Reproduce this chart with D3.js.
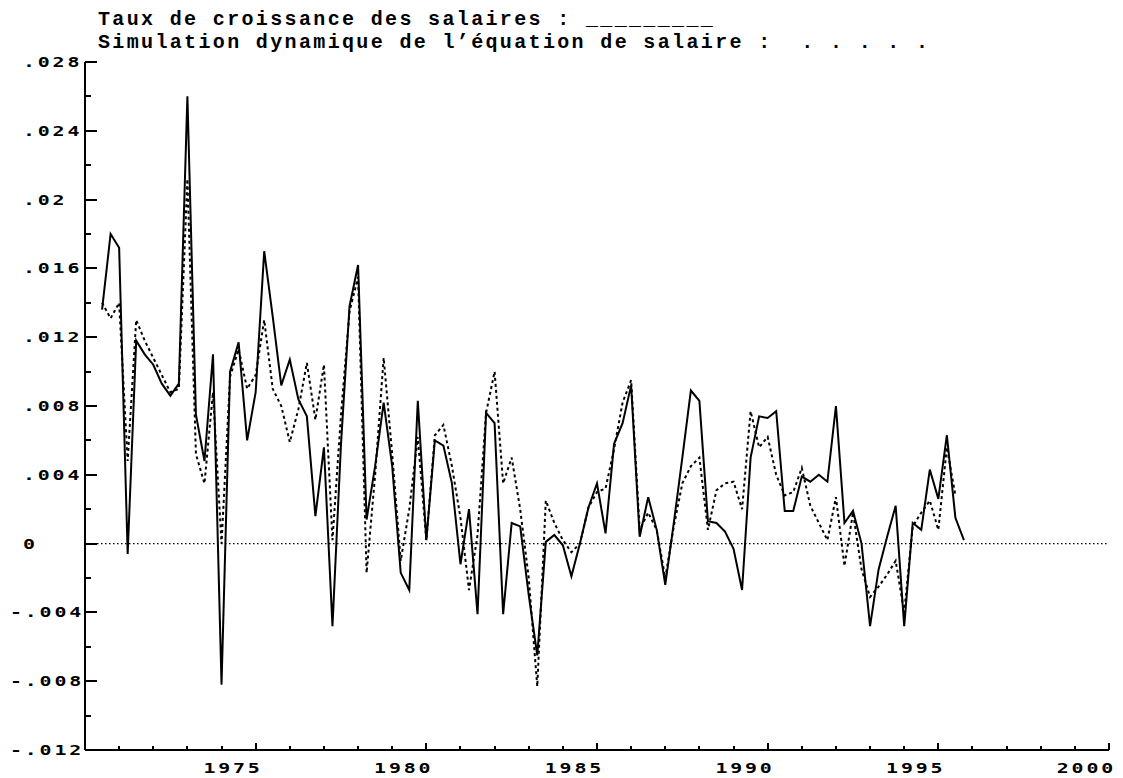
<!DOCTYPE html>
<html><head><meta charset="utf-8">
<script src="https://cdn.jsdelivr.net/npm/d3@7"></script>
<style>
html,body{margin:0;padding:0;background:#fff;}
svg{display:block;}
text{white-space:pre;}
</style></head><body>
<svg id="chart" width="1123" height="778"></svg>
<script>
// ---- data ----
const titleLines = [
  "Taux de croissance des salaires : _________",
  "Simulation dynamique de l\u2019\u00e9quation de salaire :  . . . . ."
];
const firstPeriod = 1970.5;   // 1970 Q3
const periodStep = 0.25;      // quarterly

const actualGrowth = [
  .0136, .0180, .0172, -.0006, .0118, .0110, .0104, .0093, .0086, .0093,
  .0260, .0075, .0048, .0110, -.0082, .0100, .0117, .0060, .0088, .0170,
  .0132, .0092, .0107, .0084, .0074, .0016, .0056, -.0048, .0058, .0138,
  .0162, .0014, .0045, .0082, .0045, -.0017, -.0027, .0083, .0002, .0060,
  .0057, .0035, -.0012, .0020, -.0041, .0076, .0070, -.0041, .0012, .0010,
  -.0030, -.0065, .0001, .0005, -.0001, -.0019, .0000, .0021, .0035, .0006,
  .0058, .0070, .0092, .0004, .0027, .0008, -.0024, .0012, .0050, .0089,
  .0083, .0013, .0012, .0007, -.0003, -.0027, .0050, .0074, .0073, .0077,
  .0019, .0019, .0039, .0036, .0040, .0036, .0080, .0012, .0019, .0000,
  -.0048, -.0015, .0004, .0022, -.0048, .0012, .0008, .0043, .0026, .0063,
  .0015, .0002
];
const simulatedGrowth = [
  .0140, .0131, .0140, .0048, .0130, .0118, .0108, .0098, .0088, .0090,
  .0212, .0052, .0035, .0088, .0000, .0097, .0113, .0090, .0098, .0130,
  .0090, .0080, .0059, .0078, .0105, .0072, .0104, .0002, .0075, .0135,
  .0155, -.0017, .0040, .0108, .0052, -.0010, .0020, .0062, .0002, .0063,
  .0069, .0045, .0015, -.0027, .0005, .0076, .0100, .0035, .0050, .0020,
  -.0020, -.0083, .0025, .0012, .0002, -.0005, .0000, .0021, .0030, .0032,
  .0055, .0082, .0095, .0008, .0018, .0008, -.0020, .0010, .0035, .0045,
  .0050, .0008, .0031, .0035, .0036, .0020, .0077, .0056, .0062, .0040,
  .0028, .0030, .0044, .0022, .0012, .0002, .0027, -.0013, .0018, -.0015,
  -.0031, -.0025, -.0018, -.0010, -.0040, .0010, .0018, .0025, .0008, .0056,
  .0028
];

const yTickValues = [.028, .024, .02, .016, .012, .008, .004, 0, -.004, -.008, -.012];
const yTickLabels = [".028", ".024", ".02", ".016", ".012", ".008", ".004", "0", "-.004", "-.008", "-.012"];
const yMinorTicks = [.026, .022, .018, .014, .010, .006, .002, -.002, -.006, -.010];
const xTickValues = [1975, 1980, 1985, 1990, 1995, 2000];
const xTickLabels = ["1975", "1980", "1985", "1990", "1995", "2000"];
const xMinorTicks = [1971,1972,1973,1974,1976,1977,1978,1979,1981,1982,1983,1984,
                     1986,1987,1988,1989,1991,1992,1993,1994,1996,1997,1998,1999];

// ---- drawing ----
const svg = d3.select("#chart");
const x = d3.scaleLinear().domain([1970, 2000]).range([85, 1109]);
const y = d3.scaleLinear().domain([-0.012, 0.028]).range([750, 62]);
const period = i => firstPeriod + i * periodStep;

// title
svg.selectAll("text.title").data(titleLines).enter().append("text")
  .attr("class", "title")
  .attr("x", 98).attr("y", (d, i) => 25 + i * 23)
  .attr("font-family", "Liberation Mono, DejaVu Sans Mono, monospace")
  .attr("font-weight", "bold").attr("font-size", 20)
  .attr("letter-spacing", 2.35).attr("fill", "#000")
  .text(d => d);

const axisG = svg.append("g").attr("stroke", "#000").attr("stroke-width", 2)
  .attr("shape-rendering", "crispEdges");
// axis lines
axisG.append("line").attr("x1", x(1970)).attr("x2", x(1970)).attr("y1", y(0.028)).attr("y2", y(-0.012));
axisG.append("line").attr("x1", x(1970)).attr("x2", x(2000)).attr("y1", y(-0.012)).attr("y2", y(-0.012));
// y ticks
axisG.selectAll("line.ymaj").data(yTickValues).enter().append("line")
  .attr("x1", x(1970)).attr("x2", x(1970) + 12).attr("y1", d => y(d)).attr("y2", d => y(d));
axisG.selectAll("line.ymin").data(yMinorTicks).enter().append("line")
  .attr("x1", x(1970)).attr("x2", x(1970) + 6).attr("y1", d => y(d)).attr("y2", d => y(d));
// x ticks
axisG.selectAll("line.xmaj").data(xTickValues).enter().append("line")
  .attr("x1", d => x(d)).attr("x2", d => x(d)).attr("y1", y(-0.012)).attr("y2", y(-0.012) - 7);
axisG.selectAll("line.xmin").data(xMinorTicks).enter().append("line")
  .attr("x1", d => x(d)).attr("x2", d => x(d)).attr("y1", y(-0.012)).attr("y2", y(-0.012) - 4);

// tick labels
const lblFont = "DejaVu Sans Mono, monospace";
svg.selectAll("text.ylab").data(yTickValues).enter().append("text")
  .attr("class", "ylab")
  .attr("transform", (d, i) => `translate(${yTickLabels[i].startsWith("-") ? 10 : 23},${y(d) + 5}) scale(1.42,1)`)
  .attr("font-family", lblFont).attr("font-weight", "bold").attr("font-size", 14)
  .attr("letter-spacing", 2).attr("fill", "#000")
  .text((d, i) => yTickLabels[i]);
svg.selectAll("text.xlab").data(xTickValues).enter().append("text")
  .attr("class", "xlab")
  .attr("transform", d => `translate(${x(d) + 7},${y(-0.012) + 23}) scale(1.42,1)`)
  .attr("text-anchor", "end")
  .attr("font-family", lblFont).attr("font-weight", "bold").attr("font-size", 14)
  .attr("letter-spacing", 2).attr("fill", "#000")
  .text((d, i) => xTickLabels[i]);

// zero reference line
svg.append("line")
  .attr("x1", x(1970)).attr("x2", x(2000)).attr("y1", y(0)).attr("y2", y(0))
  .attr("stroke", "#000").attr("stroke-width", 1.2).attr("stroke-dasharray", "1.5,2.5");

// series
const line = d3.line().x((d, i) => x(period(i))).y(d => y(d));
svg.append("path").datum(simulatedGrowth)
  .attr("d", line).attr("fill", "none").attr("stroke", "#000")
  .attr("stroke-width", 2).attr("stroke-dasharray", "3,3");
svg.append("path").datum(actualGrowth)
  .attr("d", line).attr("fill", "none").attr("stroke", "#000")
  .attr("stroke-width", 2);
</script>
</body></html>
